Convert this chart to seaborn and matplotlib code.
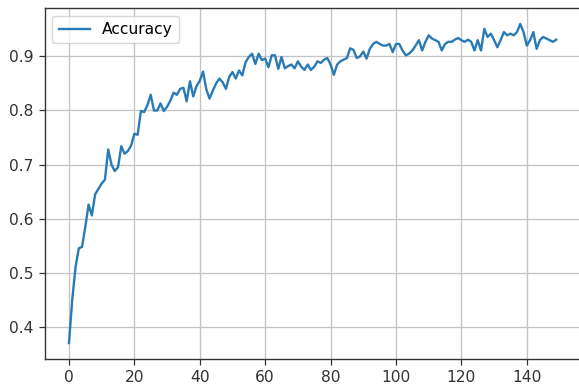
import matplotlib
matplotlib.use("Agg")
import matplotlib.pyplot as plt
import seaborn as sns
import numpy as np
import pandas as pd

epochs = list(range(150))
accuracy = [
    0.37, 0.45, 0.51, 0.545, 0.548, 0.585, 0.626, 0.606, 0.645, 0.655,
    0.665, 0.672, 0.728, 0.70, 0.688, 0.695, 0.734, 0.72, 0.725, 0.735,
    0.757, 0.755, 0.799, 0.797, 0.81, 0.829, 0.80, 0.80, 0.813, 0.799,
    0.807, 0.818, 0.833, 0.829, 0.84, 0.842, 0.817, 0.854, 0.826, 0.845,
    0.855, 0.872, 0.839, 0.822, 0.837, 0.85, 0.859, 0.852, 0.84, 0.862,
    0.871, 0.859, 0.874, 0.865, 0.889, 0.899, 0.905, 0.886, 0.905, 0.893,
    0.896, 0.88, 0.902, 0.902, 0.877, 0.899, 0.878, 0.882, 0.885, 0.878,
    0.891, 0.881, 0.875, 0.885, 0.875, 0.881, 0.891, 0.888, 0.894, 0.897,
    0.885, 0.866, 0.885, 0.891, 0.894, 0.897, 0.915, 0.912, 0.897, 0.90,
    0.909, 0.896, 0.914, 0.923, 0.927, 0.923, 0.92, 0.92, 0.923, 0.908,
    0.923, 0.923, 0.911, 0.902, 0.905, 0.911, 0.92, 0.93, 0.911, 0.927,
    0.939, 0.933, 0.93, 0.927, 0.911, 0.923, 0.927, 0.927, 0.931, 0.934,
    0.93, 0.927, 0.931, 0.927, 0.911, 0.93, 0.911, 0.951, 0.936, 0.942,
    0.93, 0.917, 0.93, 0.945, 0.939, 0.942, 0.939, 0.945, 0.96, 0.945,
    0.92, 0.93, 0.945, 0.914, 0.93, 0.936, 0.933, 0.93, 0.927, 0.931,
]
series_label = "Accuracy"

df = pd.DataFrame({"epoch": epochs, "acc": accuracy})

plt.rcParams["font.family"] = ["DejaVu Sans"]
fig = plt.figure(figsize=(5.79, 3.88), dpi=100)
ax = fig.add_axes([44.6 / 579, 29 / 388, 536 / 579, 351 / 388])

sns.lineplot(data=df, x="epoch", y="acc", ax=ax, color="#2a7ab5",
             linewidth=1.7, label=series_label)

ax.set_xlabel("")
ax.set_ylabel("")
ax.grid(True, color="#c4c4c4", linewidth=0.95)
ax.set_axisbelow(True)
ax.set_xticks([0, 20, 40, 60, 80, 100, 120, 140])
ax.set_yticks([0.4, 0.5, 0.6, 0.7, 0.8, 0.9])
ax.tick_params(labelsize=11.2, length=4, width=0.9, colors="#333333", pad=4)
for s in ax.spines.values():
    s.set_linewidth(1.0)
    s.set_color("#333333")
leg = ax.legend(loc="upper left", fontsize=11.2, frameon=True)
leg.get_frame().set_edgecolor("#cccccc")

fig.savefig("out.png", dpi=100)
